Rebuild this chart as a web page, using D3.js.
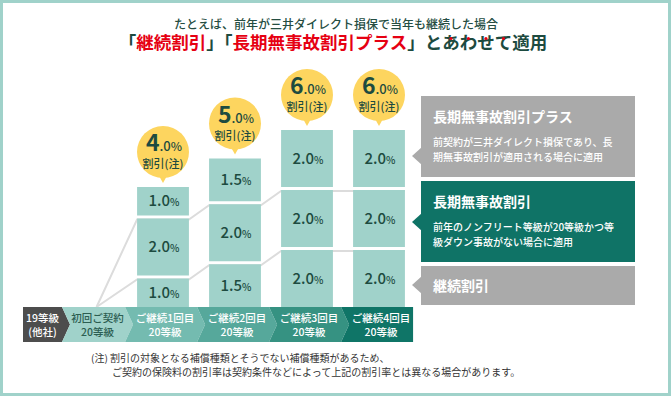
<!DOCTYPE html>
<html>
<head>
<meta charset="utf-8">
<script src="https://cdn.jsdelivr.net/npm/d3@7"></script>
<style>
  body { margin: 0; background: #fff; }
  svg { display: block; font-family: "Noto Sans CJK JP", "Noto Sans", sans-serif; }
</style>
</head>
<body>
<div class="chart"></div>
<script>
// data
const columns = ['ご継続1回目', 'ご継続2回目', 'ご継続3回目', 'ご継続4回目'];
const keizoku = [1.0, 1.5, 2.0, 2.0]; // 継続割引
const mujiko = [2.0, 2.0, 2.0, 2.0]; // 長期無事故割引
const plus = [1.0, 1.5, 2.0, 2.0]; // 長期無事故割引プラス

const stepLabels = ['19等級', '初回ご契約', 'ご継続1回目', 'ご継続2回目', 'ご継続3回目', 'ご継続4回目'];
const stepSubLabels = ['(他社)', '20等級', '20等級', '20等級', '20等級', '20等級'];

const legendTitles = ['長期無事故割引プラス', '長期無事故割引', '継続割引'];
const legendNotes = [
  ['前契約が三井ダイレクト損保であり、長', '期無事故割引が適用される場合に適用'],
  ['前年のノンフリート等級が20等級かつ等', '級ダウン事故がない場合に適用'],
  [],
];

const headline = 'たとえば、前年が三井ダイレクト損保で当年も継続した場合';
const footnotes = [
  '(注) 割引の対象となる補償種類とそうでない補償種類があるため、',
  'ご契約の保険料の割引率は契約条件などによって上記の割引率とは異なる場合があります。',
];

const teal = '#a0d2ca';
const darkText = '#1d4b40';
const red = '#e60012';

const dimensions = { width: 671, height: 396, baseY: 307, gap: 3 };

const svg = d3
  .select('.chart')
  .append('svg')
  .attr('width', dimensions.width)
  .attr('height', dimensions.height);

// frame
svg
  .append('rect')
  .attr('x', 1.5)
  .attr('y', 1.5)
  .attr('width', dimensions.width - 3)
  .attr('height', dimensions.height - 3)
  .attr('fill', '#fff')
  .attr('stroke', teal)
  .attr('stroke-width', 3);

// headline
svg
  .append('text')
  .attr('x', 336)
  .attr('y', 29)
  .attr('text-anchor', 'middle')
  .attr('fill', '#254d42')
  .style('font-size', '12px')
  .style('font-weight', 500)
  .text(headline);

const titleParts = [
  { t: '「', c: darkText },
  { t: '継続割引', c: red },
  { t: '」「', c: darkText },
  { t: '長期無事故割引プラス', c: red },
  { t: '」', c: darkText },
  { t: 'とあわせて適用', c: darkText },
];

const title = svg
  .append('text')
  .attr('x', 333)
  .attr('y', 49)
  .attr('text-anchor', 'middle')
  .style('font-size', '17.5px')
  .style('font-weight', 700);

title
  .selectAll('tspan')
  .data(titleParts)
  .join('tspan')
  .attr('fill', (d) => d.c)
  .text((d) => d.t);

// emphasis dots over あわせて
const fullTitle = titleParts.map((d) => d.t).join('');
const dotStart = fullTitle.indexOf('あわせて');
const titleNode = title.node();
d3.range(dotStart, dotStart + 4).forEach((i) => {
  const box = titleNode.getExtentOfChar(i);
  svg
    .append('circle')
    .attr('cx', box.x + box.width / 2)
    .attr('cy', 38.5)
    .attr('r', 1.6)
    .attr('fill', red);
});

// scales
const xScale = d3
  .scaleBand()
  .domain(columns)
  .range([127, 415])
  .paddingInner(0.28)
  .paddingOuter(0.14);

const yScale = d3.scaleLinear().domain([0, 6]).range([dimensions.baseY, 136]);

const rows = columns.map((col, i) => ({
  col,
  keizoku: keizoku[i],
  mujiko: mujiko[i],
  plus: plus[i],
}));

const stack = d3.stack().keys(['keizoku', 'mujiko', 'plus']);
const series = stack(rows);

// bottom steps
const stepW = xScale.step();
const firstCol = xScale(columns[0]) - 12;
const stepEdges = [
  [23, 62],
  [62, firstCol],
  ...columns.map((c) => [xScale(c) - 12, xScale(c) - 12 + stepW]),
];
const stepColors = ['#4d4d4d', teal, '#74bbb0', '#56a89b', '#369282', '#0f7567'];
const tip = 8;
const barTop = dimensions.baseY;
const barBottom = 342;
const barMid = (barTop + barBottom) / 2;

// connector lines
const convX = (stepEdges[1][0] + stepEdges[1][1]) / 2 + 3;
const lineGenerator = d3
  .line()
  .x((d) => d[0])
  .y((d) => d[1]);

[0, 1].forEach((layer) => {
  const pts = [[convX, barTop]];
  series[layer].forEach((d) => {
    const yTop = yScale(d[1]) - dimensions.gap * layer + 1;
    pts.push([xScale(d.data.col), yTop]);
    pts.push([xScale(d.data.col) + xScale.bandwidth(), yTop]);
  });
  svg
    .append('path')
    .attr('d', lineGenerator(pts))
    .attr('fill', 'none')
    .attr('stroke', '#dcdcdc')
    .attr('stroke-width', 2);
});

// boxes
const fmt = d3.format('.1f');
series.forEach((layerData, layer) => {
  const g = svg.append('g');
  layerData.forEach((d) => {
    const y0 = yScale(d[0]) - dimensions.gap * layer;
    const y1 = yScale(d[1]) - dimensions.gap * layer;
    const x = xScale(d.data.col);
    g.append('rect')
      .attr('x', x)
      .attr('y', y1)
      .attr('width', xScale.bandwidth())
      .attr('height', y0 - y1)
      .attr('fill', teal);
    const label = g
      .append('text')
      .attr('x', x + xScale.bandwidth() / 2 + 1)
      .attr('y', (y0 + y1) / 2 + 5)
      .attr('text-anchor', 'middle')
      .attr('fill', darkText)
      .style('font-size', '15px')
      .style('font-weight', 500);
    label.append('tspan').text(fmt(d[1] - d[0]));
    label.append('tspan').style('font-size', '10px').text('%');
  });
});

// bubbles
const totals = rows.map((r) => r.keizoku + r.mujiko + r.plus);
const topLayer = series[series.length - 1];
topLayer.forEach((d, i) => {
  const cx = xScale(d.data.col) + xScale.bandwidth() / 2;
  const top = yScale(d[1]) - dimensions.gap * (series.length - 1);
  const cy = top - 35;
  const r = 26;
  const g = svg.append('g');
  g.append('path')
    .attr('d', `M${cx - 5},${cy + r - 4}L${cx + 5},${cy + r - 4}L${cx},${cy + r + 5}Z`)
    .attr('fill', '#fdd55f');
  g.append('circle').attr('cx', cx).attr('cy', cy).attr('r', r).attr('fill', '#fdd55f');
  const [intPart, decPart] = fmt(totals[i]).split('.');
  const t = g
    .append('text')
    .attr('x', cx + 1)
    .attr('y', cy - 1)
    .attr('text-anchor', 'middle')
    .attr('fill', darkText);
  t.append('tspan').style('font-size', '23px').style('font-weight', 700).text(intPart);
  t.append('tspan').style('font-size', '13px').style('font-weight', 500).text('.' + decPart);
  t.append('tspan').style('font-size', '12px').style('font-weight', 500).text('%');
  g.append('text')
    .attr('x', cx)
    .attr('y', cy + 16)
    .attr('text-anchor', 'middle')
    .attr('fill', darkText)
    .style('font-size', '11px')
    .style('font-weight', 500)
    .text('割引(注)');
});

// step bar
stepEdges.forEach(([l, r], i) => {
  const last = i === stepEdges.length - 1;
  const pts = [
    [l, barTop],
    [r, barTop],
    last ? [r, barMid] : [r + tip, barMid],
    [r, barBottom],
    [l, barBottom],
    i === 0 ? [l, barMid] : [l + tip, barMid],
  ];
  svg
    .append('path')
    .attr('d', 'M' + pts.join('L') + 'Z')
    .attr('fill', stepColors[i]);
});
stepEdges.forEach(([l, r], i) => {
  const cx = i === 0 ? (l + r) / 2 : (l + r) / 2 + tip / 2;
  const color = i === 1 ? '#2c5e52' : '#fff';
  [stepLabels[i], stepSubLabels[i]].forEach((s, k) => {
    svg
      .append('text')
      .attr('x', cx)
      .attr('y', 322 + k * 14)
      .attr('text-anchor', 'middle')
      .attr('fill', color)
      .style('font-size', '10.5px')
      .style('font-weight', 500)
      .text(s);
  });
});

// legend boxes
const legendBoxes = [
  { y: 96, h: 81, py: 156, color: '#aaaaaa' },
  { y: 181, h: 81, py: 222, color: '#0f7366' },
  { y: 266, h: 39, py: 285, color: '#aaaaaa' },
];
legendBoxes.forEach((b, i) => {
  const g = svg.append('g');
  g.append('rect')
    .attr('x', 421)
    .attr('y', b.y)
    .attr('width', 214)
    .attr('height', b.h)
    .attr('fill', b.color);
  g.append('path')
    .attr('d', `M422,${b.py - 9}L412,${b.py}L422,${b.py + 9}Z`)
    .attr('fill', b.color);
  const hasNotes = legendNotes[i].length > 0;
  g.append('text')
    .attr('x', 433)
    .attr('y', hasNotes ? b.y + 26 : b.y + b.h / 2 + 5)
    .attr('fill', '#fff')
    .style('font-size', '14px')
    .style('font-weight', 700)
    .text(legendTitles[i]);
  legendNotes[i].forEach((s, k) => {
    g.append('text')
      .attr('x', 433)
      .attr('y', b.y + 50 + k * 15)
      .attr('fill', '#fff')
      .style('font-size', '10px')
      .style('font-weight', 500)
      .text(s);
  });
});

// footnote
footnotes.forEach((s, k) => {
  svg
    .append('text')
    .attr('x', k === 0 ? 91 : 112)
    .attr('y', 362 + k * 14)
    .attr('fill', '#333')
    .style('font-size', '10px')
    .text(s);
});
</script>
</body>
</html>
